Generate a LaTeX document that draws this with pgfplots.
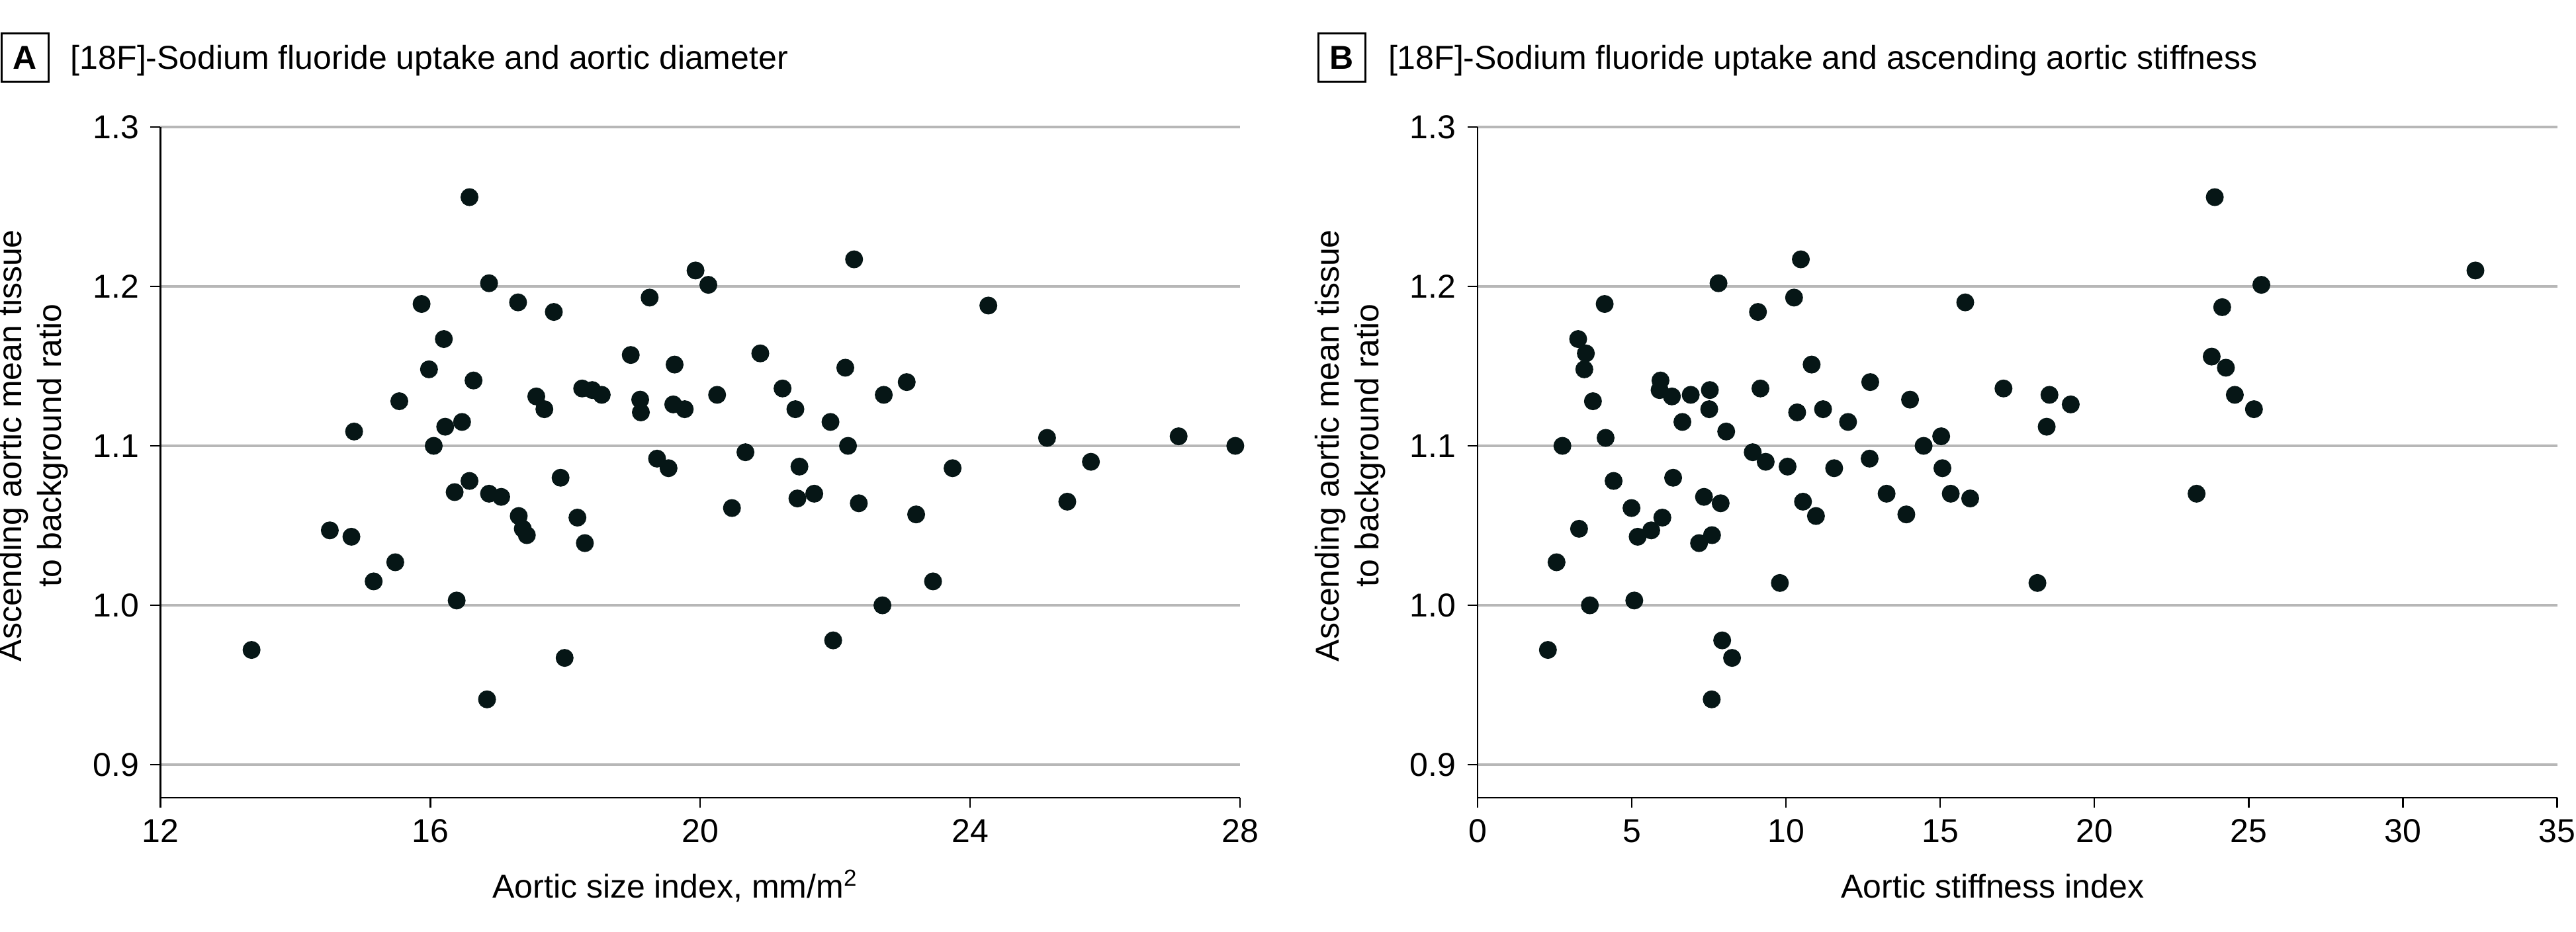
\documentclass[border=0pt]{standalone}
\usepackage{fontspec}
\setmainfont{Liberation Sans}
\usepackage{pgfplots}
\pgfplotsset{compat=1.18}
\definecolor{dot}{RGB}{6,22,22}
\definecolor{gridgray}{RGB}{183,183,183}
\pgfplotsset{
  panel/.style={
    scale only axis, width=326.3pt, height=202.8pt,
    anchor=south west,
    axis x line=bottom, axis y line=left,
    axis line style={-, line width=0.55pt, black},
    ymin=0.8793, ymax=1.3,
    ytick={0.9,1.0,1.1,1.2,1.3},
    ymajorgrids, major grid style={gridgray, line width=0.7pt},
    tick align=outside, major tick length=3pt,
    tick style={black, line width=0.45pt},
    /pgf/number format/assume math mode=true,
    yticklabel style={/pgf/number format/fixed, /pgf/number format/fixed zerofill, /pgf/number format/precision=1},
    ticklabel style={font=\fontsize{10}{12}\selectfont},
    label style={font=\fontsize{10}{12}\selectfont},
    clip=false,
    ylabel={Ascending aortic mean tissue\\to background ratio},
    ylabel style={at={(axis description cs:-0.118,0.525)}, anchor=center, align=center},
    xlabel style={at={(axis description cs:0.477,-0.132)}, anchor=center},
  },
  dots/.style={only marks, mark=*, mark size=2.5pt, color=dot, mark options={draw=dot, fill=dot}},
}
\pgfplotstableread{
x y
16.58 1.256
16.87 1.202
15.87 1.189
17.30 1.190
17.83 1.184
19.93 1.210
20.12 1.201
19.25 1.193
16.20 1.167
18.97 1.157
19.62 1.151
20.89 1.158
15.98 1.148
16.64 1.141
15.54 1.128
17.57 1.131
17.69 1.123
18.25 1.136
18.40 1.135
18.54 1.132
19.11 1.129
19.12 1.121
19.60 1.126
19.77 1.123
20.25 1.132
14.87 1.109
16.22 1.112
16.47 1.115
16.05 1.100
19.36 1.092
19.53 1.086
20.67 1.096
16.58 1.078
16.36 1.071
16.87 1.070
17.05 1.068
17.93 1.080
20.47 1.061
14.51 1.047
14.83 1.043
17.31 1.056
17.37 1.048
17.43 1.044
18.18 1.055
18.29 1.039
15.48 1.027
15.16 1.015
16.39 1.003
17.99 0.967
16.84 0.941
22.28 1.217
24.27 1.188
22.15 1.149
21.22 1.136
21.41 1.123
21.93 1.115
22.72 1.132
23.06 1.140
22.19 1.100
25.14 1.105
27.09 1.106
27.93 1.100
21.47 1.087
23.74 1.086
25.79 1.090
21.44 1.067
21.69 1.070
22.35 1.064
23.20 1.057
25.44 1.065
23.45 1.015
22.70 1.000
21.97 0.978
13.35 0.972
}\tableA
\pgfplotstableread{
x y
10.48 1.217
7.81 1.202
4.12 1.189
9.09 1.184
10.26 1.193
15.81 1.190
3.26 1.167
3.51 1.158
3.46 1.148
10.83 1.151
5.93 1.141
5.90 1.135
6.30 1.131
6.91 1.132
7.53 1.135
9.17 1.136
12.73 1.140
3.74 1.128
7.51 1.123
6.64 1.115
10.36 1.121
11.20 1.123
12.01 1.115
14.02 1.129
8.06 1.109
4.15 1.105
2.75 1.100
14.46 1.100
15.03 1.106
8.92 1.096
9.34 1.090
10.05 1.087
11.56 1.086
12.71 1.092
15.07 1.086
4.41 1.078
6.34 1.080
4.99 1.061
3.29 1.048
2.56 1.027
5.19 1.043
5.63 1.047
5.99 1.055
7.34 1.068
7.88 1.064
7.18 1.039
7.60 1.044
10.55 1.065
10.97 1.056
13.26 1.070
15.34 1.070
13.90 1.057
15.97 1.067
9.80 1.014
5.08 1.003
3.64 1.000
2.28 0.972
7.93 0.978
8.25 0.967
7.59 0.941
23.90 1.256
32.35 1.210
25.41 1.201
24.14 1.187
23.80 1.156
24.26 1.149
17.05 1.136
18.54 1.132
19.23 1.126
24.55 1.132
25.17 1.123
18.45 1.112
23.31 1.070
18.15 1.014
}\tableB
\begin{document}
\begin{tikzpicture}
\useasboundingbox (0,0) rectangle (778.6pt,281.6pt);
% Panel titles
\node[draw, line width=0.6pt, minimum width=14.2pt, minimum height=14.6pt, inner sep=0pt, font=\bfseries] at (7.5pt,264.2pt) {A};
\node[anchor=base west, inner sep=0pt] at (21.2pt,260.6pt) {[18F]-Sodium fluoride uptake and aortic diameter};
\node[draw, line width=0.6pt, minimum width=14.2pt, minimum height=14.6pt, inner sep=0pt, font=\bfseries] at (405.5pt,264.2pt) {B};
\node[anchor=base west, inner sep=0pt] at (419.4pt,260.6pt) {[18F]-Sodium fluoride uptake and ascending aortic stiffness};

\begin{axis}[panel, at={(48.5pt,40.4pt)},
  xmin=12, xmax=28, xtick={12,16,20,24,28},
  xlabel={Aortic size index, mm/m\textsuperscript{2}}]
\addplot[dots] table[x=x, y=y] {\tableA};
\end{axis}

\begin{axis}[panel, at={(446.6pt,40.4pt)},
  xmin=0, xmax=35, xtick={0,5,10,15,20,25,30,35},
  xlabel={Aortic stiffness index}]
\addplot[dots] table[x=x, y=y] {\tableB};
\end{axis}
\end{tikzpicture}
\end{document}
